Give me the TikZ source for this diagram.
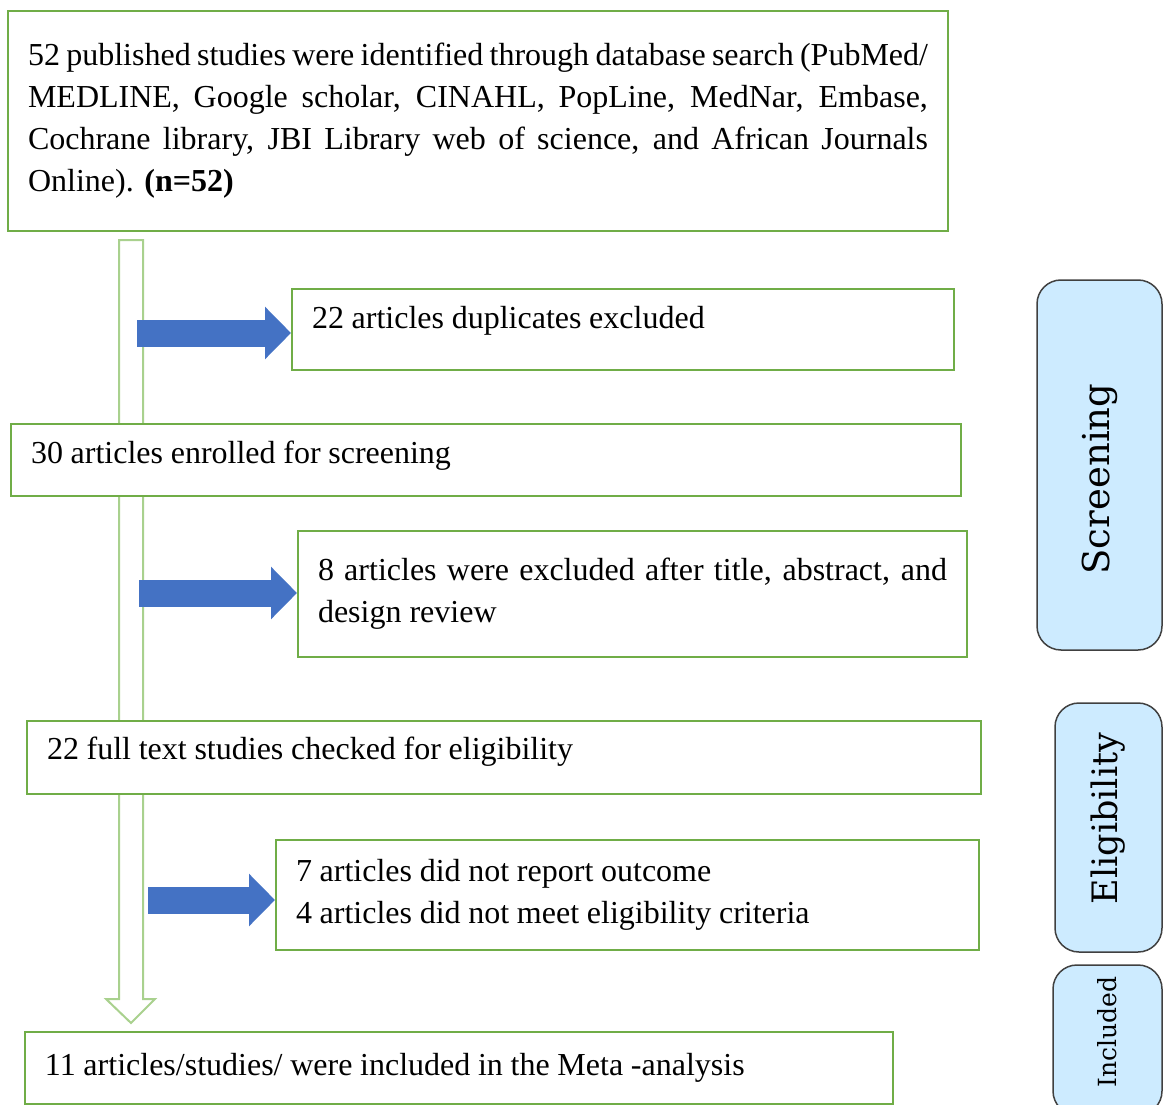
\documentclass[tikz,border=0pt]{standalone}
\usepackage{fontspec}
\setmainfont{Liberation Serif}
\newfontfamily\phasefont{DejaVu Serif}
\usetikzlibrary{arrows.meta}
\usetikzlibrary{calc}
\definecolor{BoxGreen}{HTML}{70AD47}
\definecolor{ShaftGreen}{HTML}{A9D18E}
\definecolor{ArrowBlue}{HTML}{4472C4}
\definecolor{PhaseBlue}{HTML}{CDEBFF}
\definecolor{PhaseLine}{HTML}{404040}
\newcommand{\RaggedSpaces}{\spaceskip=7.7pt plus 0.5pt minus 1pt\relax}
\newcommand{\FontSpaces}{\spaceskip=0pt\relax}
\pgfdeclarelayer{background}
\pgfsetlayers{background,main}
\tikzstyle{FlowBox}=[rectangle, draw=BoxGreen, line width=2pt, fill=white, anchor=north west, inner xsep=20pt, inner ysep=2pt, align=left, font=\fontsize{32}{42}\selectfont, execute at begin node=\RaggedSpaces]
\tikzstyle{JustBox}=[FlowBox, align=justify, execute at begin node=\FontSpaces]
\tikzstyle{PhaseBox}=[rectangle, rounded corners=24pt, draw=PhaseLine, line width=1.5pt, fill=PhaseBlue, rotate=90, inner sep=0pt]
\tikzstyle{ExcludeEdge}=[draw=ArrowBlue, line width=27pt, -{Triangle[length=26pt, width=51pt]}]
\tikzstyle{MainEdge}=[draw=ShaftGreen, line width=2pt, fill=white]

\begin{document}
\begin{tikzpicture}[x=1pt, y=-1pt]
\clip (0,0) rectangle (1163,1105);
\node[JustBox, minimum width=940, minimum height=220, text width=900](Identified) at (7,10) {52 published studies were identified through database search (PubMed/\linebreak MEDLINE, Google scholar, CINAHL, PopLine, MedNar, Embase,\linebreak Cochrane library, JBI Library web of science, and African Journals\linebreak Online). \textbf{(n=52)}};
\node[FlowBox, minimum width=662, minimum height=81, text width=622, text depth=25pt](Duplicates) at (291,288) {22 articles duplicates excluded};
\node[FlowBox, minimum width=950, minimum height=72, text width=910, text depth=15pt](Enrolled) at (10,423) {30 articles enrolled for screening};
\node[JustBox, minimum width=669, minimum height=126, text width=629](ExcludedTitle) at (297,530) {8 articles were excluded after title, abstract, and\linebreak design review};
\node[FlowBox, minimum width=954, minimum height=73, text width=914, text depth=19pt](FullText) at (26,720) {22 full text studies checked for eligibility};
\node[FlowBox, minimum width=703, minimum height=110, text width=663](ExcludedOutcome) at (275,839) {7 articles did not report outcome\\4 articles did not meet eligibility criteria};
\node[FlowBox, minimum width=868, minimum height=72, text width=828](Included) at (24,1031) {11 articles/studies/ were included in the Meta -analysis};

% phase labels on the right
\node[PhaseBox, minimum width=370, minimum height=125, font=\phasefont\fontsize{37}{40}\selectfont](ScreeningPhase) at (1099.5,465) {Screening\hspace{28pt}\mbox{}};
\node[PhaseBox, minimum width=249, minimum height=107, font=\phasefont\fontsize{35}{40}\selectfont](EligibilityPhase) at (1108.5,827.5) {\hspace{18pt}Eligibility};
\node[PhaseBox, minimum width=150, minimum height=109, font=\phasefont\fontsize{25}{30}\selectfont](IncludedPhase) at (1107.5,1040) {\hspace{16pt}Included};

\coordinate (ShaftTop) at ($(Identified.south west)+(124,8)$);
\coordinate (ShaftTip) at ($(Included.north west)+(107,-8)$);
\begin{pgfonlayer}{background}
\filldraw[MainEdge] ($(ShaftTop)+(-12,0)$) -- ($(ShaftTop)+(12,0)$) -- ($(ShaftTip)+(12,-24)$) -- ($(ShaftTip)+(24,-24)$) -- (ShaftTip) -- ($(ShaftTip)+(-25,-24)$) -- ($(ShaftTip)+(-12,-24)$) -- cycle;
\end{pgfonlayer}

\coordinate (DupStart) at (137,333);
\coordinate (TitleStart) at (139,593);
\coordinate (OutcomeStart) at (148,900);
\draw[ExcludeEdge] (DupStart) -- (DupStart -| Duplicates.west);
\draw[ExcludeEdge] (TitleStart) -- (TitleStart -| ExcludedTitle.west);
\draw[ExcludeEdge] (OutcomeStart) -- (OutcomeStart -| ExcludedOutcome.west);
\end{tikzpicture}
\end{document}
